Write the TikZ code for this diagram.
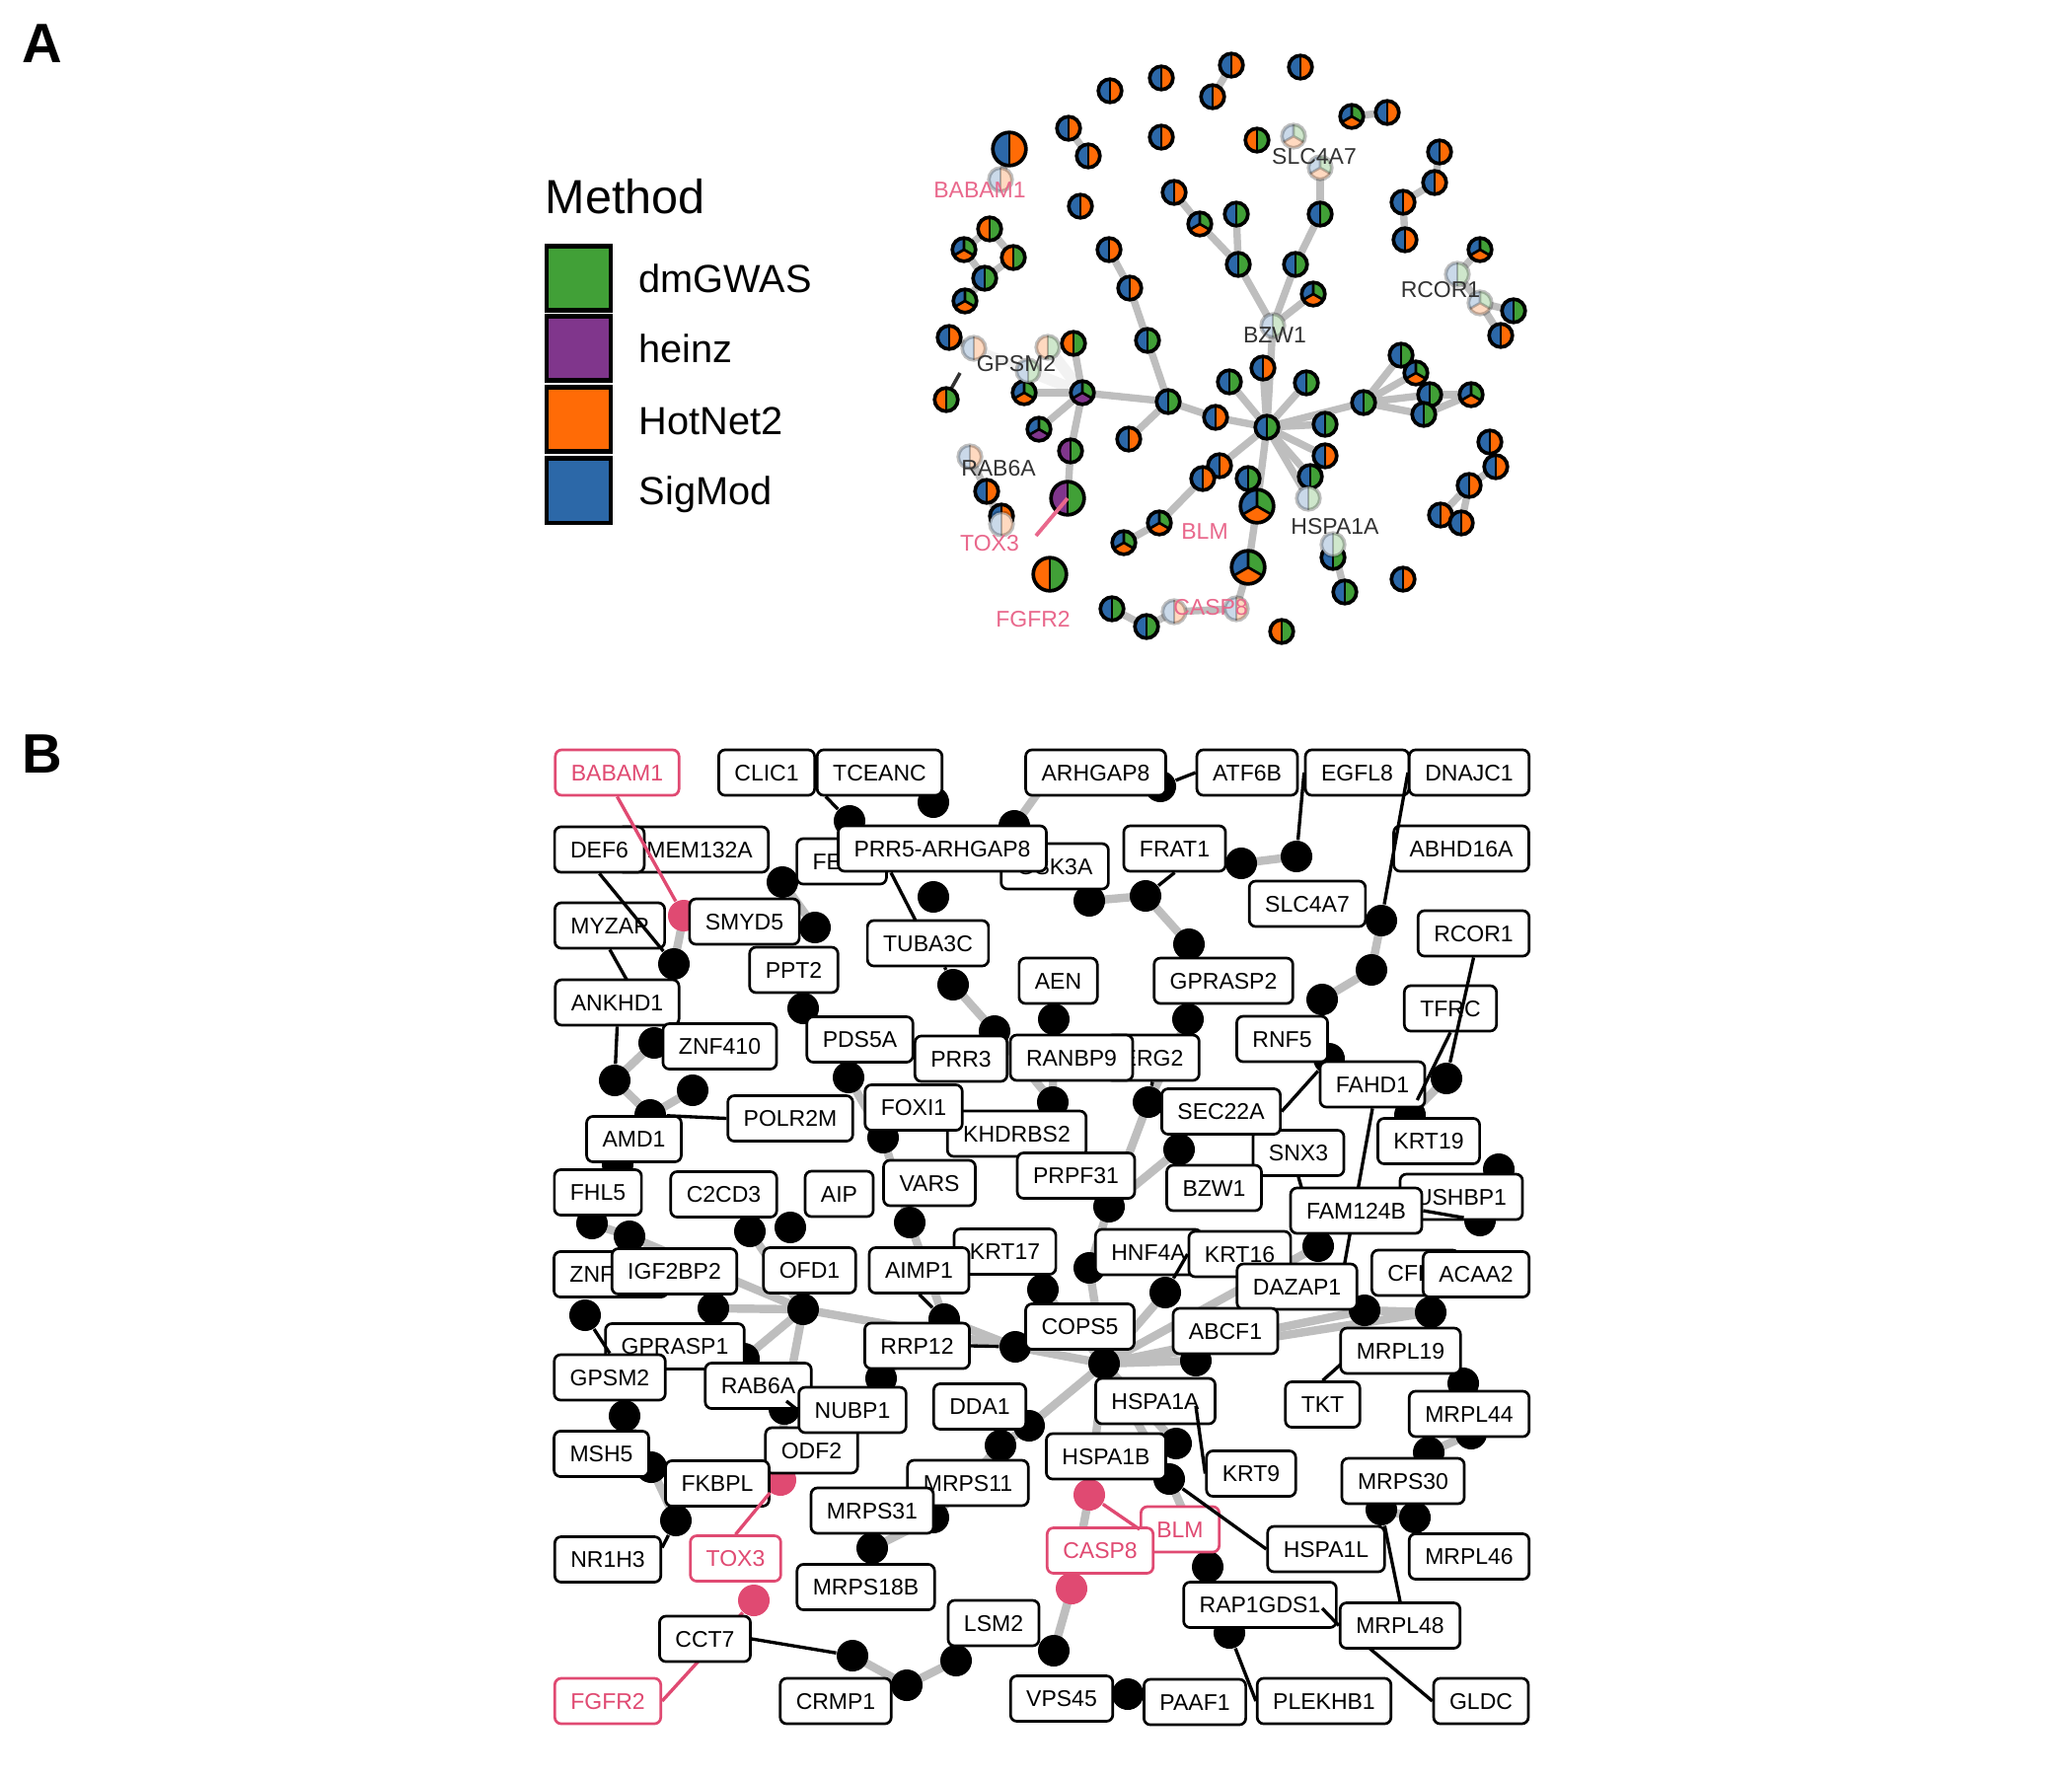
\documentclass[tikz,border=0pt]{standalone}
\usepackage{fontspec}
\setmainfont{Liberation Sans}
\usetikzlibrary{calc}
\pgfdeclarelayer{back}\pgfdeclarelayer{bg}\pgfdeclarelayer{fg}
\pgfsetlayers{back,bg,main,fg}
\definecolor{mgreen}{RGB}{65,160,55}
\definecolor{mpurple}{RGB}{128,54,140}
\definecolor{morange}{RGB}{255,107,6}
\definecolor{mblue}{RGB}{44,104,168}
\definecolor{edgeg}{RGB}{190,190,190}
\definecolor{pinkA}{RGB}{233,104,140}
\definecolor{pinkB}{RGB}{224,74,114}
\def\radN{0.118cm}
\def\radB{0.168cm}
\newcommand\pieH[4]{%
  \fill[#3] (#1) -- ++(90:#2) arc[start angle=90,end angle=270,radius=#2] -- cycle;
  \fill[#4] (#1) -- ++(270:#2) arc[start angle=-90,end angle=90,radius=#2] -- cycle;
  \draw[line width=0.75pt] (#1) -- ++(90:#2) (#1) -- ++(270:#2);
  \draw[line width=1.05pt] (#1) circle[radius=#2];}
\newcommand\pieT[5]{%
  \fill[#3] (#1) -- ++(90:#2) arc[start angle=90,end angle=210,radius=#2] -- cycle;
  \fill[#5] (#1) -- ++(210:#2) arc[start angle=210,end angle=330,radius=#2] -- cycle;
  \fill[#4] (#1) -- ++(330:#2) arc[start angle=330,end angle=450,radius=#2] -- cycle;
  \draw[line width=0.75pt] (#1) -- ++(90:#2) (#1) -- ++(210:#2) (#1) -- ++(330:#2);
  \draw[line width=1.05pt] (#1) circle[radius=#2];}
\newcommand\pBO[2][\radN]{\pieH{#2}{#1}{mblue}{morange}}
\newcommand\pBG[2][\radN]{\pieH{#2}{#1}{mblue}{mgreen}}
\newcommand\pOG[2][\radN]{\pieH{#2}{#1}{morange}{mgreen}}
\newcommand\pPG[2][\radN]{\pieH{#2}{#1}{mpurple}{mgreen}}
\newcommand\pTBO[2][\radN]{\pieT{#2}{#1}{mblue}{mgreen}{morange}}
\newcommand\pTBP[2][\radN]{\pieT{#2}{#1}{mblue}{mgreen}{mpurple}}
\newcommand\fadeWrap[2]{\fill[white] (#1) circle[radius=\radN];\begin{scope}[opacity=0.25]#2\end{scope}}
\newcommand\fBO[1]{\fadeWrap{#1}{\pBO{#1}}}
\newcommand\fBG[1]{\fadeWrap{#1}{\pBG{#1}}}
\newcommand\fOG[1]{\fadeWrap{#1}{\pOG{#1}}}
\newcommand\fTBO[1]{\fadeWrap{#1}{\pTBO{#1}}}
\begin{document}
\begin{tikzpicture}[x=0.01cm,y=-0.01cm,
  gedgeA/.style={line width=2.1pt, draw=edgeg},
  gedgeB/.style={line width=2.4pt, draw=edgeg},
  seg/.style={line width=0.95pt},
  segp/.style={line width=0.95pt, draw=pinkB},
  lbl/.style={draw, line width=0.77pt, rounded corners=0.065cm, fill=white,
    font=\fontsize{6.54}{7}\selectfont, inner xsep=0.16cm, inner ysep=0pt,
    minimum height=0.46cm, text height=0.165cm, text depth=0cm},
  lblp/.style={lbl, draw=pinkB, text=pinkB},
  dotB/.style={circle, fill=black, minimum size=0.32cm, inner sep=0pt},
  dotP/.style={dotB, fill=pinkB},
  labA/.style={font=\fontsize{6.54}{7}\selectfont, text=black!80, inner sep=0pt, text height=0.165cm, text depth=0cm},
  labAp/.style={labA, text=pinkA},
  legsq/.style={draw, line width=1.15pt, minimum size=0.65cm, inner sep=0pt},
  leglab/.style={font=\fontsize{11.3}{13}\selectfont, anchor=base west, inner sep=0pt}]
\useasboundingbox (0,0) rectangle (2100,1800);
\begin{pgfonlayer}{back}
\fill[white] (0,0) rectangle (2100,1800);
\end{pgfonlayer}

% ---------------- panel letters ----------------
\node[font=\fontsize{16}{18}\selectfont\bfseries, anchor=base west, inner sep=0pt] (pA) at (22,64) {A};
\node[font=\fontsize{16}{18}\selectfont\bfseries, anchor=base west, inner sep=0pt] (pB) at (22,783) {B};

% ---------------- legend ----------------
\node[font=\fontsize{13.8}{16}\selectfont, anchor=base west, inner sep=0pt] (legt) at (552,216) {Method};
\node[legsq, fill=mgreen] (lg1) at (586.5,282) {};
\node[legsq, fill=mpurple] (lg2) at (586.5,353) {};
\node[legsq, fill=morange] (lg3) at (586.5,425) {};
\node[legsq, fill=mblue] (lg4) at (586.5,497) {};
\node[leglab] (lt1) at (647,296) {dmGWAS};
\node[leglab] (lt2) at (647,367) {heinz};
\node[leglab] (lt3) at (647,440) {HotNet2};
\node[leglab] (lt4) at (647,511) {SigMod};

% ---------------- panel A ----------------
\foreach \n/\x/\y in {na1/1125/92, na2/1177/79, na3/1248/66, na4/1318/68, na5/1229/98,
  na6/1370/118, na7/1406/114, na8/1083/130, na9/1103/158, na10/1177/139, na11/1023/151,
  nf1/1014/182, na12/1274/142, nf2/1311/138, nf3/1338/170, na13/1338/217, na14/1313/268,
  nfB/1290/330, na15/1331/298, na16/1253/217, na17/1255/268, na18/1190/195, na19/1216/227,
  na20/1095/209, na21/1124/253, na22/1145/292, na23/1163/345, na24/1003/232, na25/977/253,
  na26/1027/261, na27/998/282, na28/978/305, nh/1284/433, nb1/1232/423, nb2/1184/407,
  nb3/1144/445, nc1/1097/398, nc2/1038/398, nc3/1053/435, nc4/1085/457, nc5/1082/505,
  nc6/1088/348, nfG1/987/353, nfG2/1062/352, nfG3/1042/376, nc7/962/342, nc8/959/405,
  nfR1/983/463, nr2/1000/498, nr3/1015/523, nfR3/1015/531, nc9/1064/582, nd1/1280/373,
  nd2/1246/387, nd3/1324/388, nd4/1343/430, nd5/1382/408, nd6/1343/462, nd7/1328/483,
  nfH/1326/505, nd8/1265/485, nd9/1274/513, nd10/1236/472, nd11/1219/485, nd12/1265/575,
  nfC/1253/617, nfC2/1190/620, ne3/1162/635, ne4/1127/617, ne1/1175/530, ne2/1139/550,
  ng1/1351/565, nfH2/1351/552, ng2/1363/600, ng3/1422/587, ng4/1299/640, nk1/1420/360,
  nk2/1435/378, nk3/1449/400, nk4/1443/420, nk5/1491/400, nm1/1510/448, nm2/1516/473,
  nm3/1489/492, nm4/1460/522, nm5/1481/530, nr1/1500/253, nfRC1/1477/278, nfRC2/1500/307,
  nrr2/1534/315, nrr3/1521/340, nn1/1459/154, nn2/1454/185, nn3/1422/205, nn4/1424/243}
  \coordinate (\n) at (\x,\y);
\coordinate (gl1) at (973,378);
\coordinate (gl2) at (964,394);
\coordinate (toxend) at (1050,543);

\draw[line width=3.2pt, draw=black!5] (nc1) -- (nfG2);
\draw[line width=3.2pt, draw=black!5] (nc1) -- (nfG3);
\draw[line width=2.4pt, draw=black!5] (nc1) -- (nfG1);
\foreach \a/\b in {na3/na5, na6/na7, na8/na9, na11/nf1, nf3/na13, na13/na14, na14/nfB,
  na15/nfB, na16/na17, na17/nfB, na18/na19, na19/na17, na21/na22, na22/na23, na23/nb2,
  na24/na25, na24/na26, na26/na27, na25/na27, na27/na28, nfB/nh, nb2/nb1, nb1/nh, nb2/nb3,
  nb2/nc1, nc1/nc2, nc1/nc3, nc1/nc4, nc4/nc5, nc1/nc6, nc7/nfG1, nfR1/nr2, nr2/nfR3,
  nh/nd1, nh/nd2, nh/nd3, nh/nd4, nh/nd5, nh/nd6, nh/nd7, nh/nfH, nh/nd9, nh/nd10,
  nd10/nd11, nd11/ne1, ne1/ne2, nd9/nd12, nd12/nfC, nfC/nfC2, nfC2/ne3, ne3/ne4,
  nfH2/ng2, nd5/nk1, nd5/nk2, nd5/nk3, nd5/nk4, nk3/nk5, nk4/nk5, nk1/nk2, nm1/nm2,
  nm2/nm3, nm3/nm4, nm3/nm5, nr1/nfRC1, nfRC1/nfRC2, nfRC2/nrr2, nfRC2/nrr3, nn1/nn2,
  nn2/nn3, nn3/nn4}
  \draw[gedgeA] (\a) -- (\b);
\draw[line width=1pt, draw=black!80] (gl1) -- (gl2);

% normal pies
\pBO{na1}\pBO{na2}\pBO{na3}\pBO{na4}\pBO{na5}\pTBO{na6}\pBO{na7}\pBO{na8}\pBO{na9}
\pBO{na10}\pBO[\radB]{na11}\pOG{na12}\pBG{na13}\pBG{na14}\pTBO{na15}\pBG{na16}\pBG{na17}
\pBO{na18}\pTBO{na19}\pBO{na20}\pBO{na21}\pBO{na22}\pBG{na23}\pOG{na24}\pTBO{na25}
\pOG{na26}\pBG{na27}\pTBO{na28}\pBG{nh}\pBO{nb1}\pBG{nb2}\pBO{nb3}\pTBP{nc1}\pTBO{nc2}
\pTBP{nc3}\pPG{nc4}\pPG[\radB]{nc5}\pOG{nc6}\pBO{nc7}\pOG{nc8}\pBO{nr2}\pBO{nr3}\pOG[\radB]{nc9}
\pBO{nd1}\pBG{nd2}\pBG{nd3}\pBG{nd4}\pBG{nd5}\pBO{nd6}\pBG{nd7}\pBG{nd8}\pTBO[\radB]{nd9}
\pBO{nd10}\pBO{nd11}\pTBO[\radB]{nd12}\pBG{ne3}\pBG{ne4}\pTBO{ne1}\pTBO{ne2}\pBG{ng1}
\pBG{ng2}\pBO{ng3}\pOG{ng4}\pBG{nk1}\pTBO{nk2}\pBG{nk3}\pBG{nk4}\pTBO{nk5}\pBO{nm1}
\pBO{nm2}\pBO{nm3}\pBO{nm4}\pBO{nm5}\pTBO{nr1}\pBG{nrr2}\pBO{nrr3}\pBO{nn1}\pBO{nn2}
\pBO{nn3}\pBO{nn4}
% faded pies
\fBO{nf1}\fTBO{nf2}\fTBO{nf3}\fBG{nfB}\fBO{nfG1}\fBG{nfG3}\fOG{nfG2}\fBO{nfR1}\fBO{nfR3}\fBG{nfH}
\fBG{nfH2}\fBO{nfC}\fBO{nfC2}\fBG{nfRC1}\fTBO{nfRC2}
\draw[line width=1.1pt, draw=pinkA] (nc5) -- (toxend);

\node[labAp] (Ababam1) at (993,192) {BABAM1};
\node[labA] (Aslc4a7) at (1332,158) {SLC4A7};
\node[labA] (Arcor1) at (1460,293) {RCOR1};
\node[labA] (Abzw1) at (1292,339) {BZW1};
\node[labA] (Agpsm2) at (1030,368) {GPSM2};
\node[labA] (Arab6a) at (1012,474) {RAB6A};
\node[labAp] (Atox3) at (1003,550) {TOX3};
\node[labAp] (Ablm) at (1221,538) {BLM};
\node[labA] (Ahspa1a) at (1353,533) {HSPA1A};
\node[labAp] (Afgfr2) at (1047,627) {FGFR2};
\node[labAp] (Acasp8) at (1227,615) {CASP8};

% ---------------- panel B ----------------
\foreach \n/\x/\y in {q1/861/832, q2/946/813, q3/1028/837, q4/1065/785, q5/793/894,
  q6/946/909, q7/683/977, q8/826/940, q9/814/1022, q10/966/998, q11/1008/1045,
  q12/663/1057, q13/623/1095, q14/702/1105, q15/659/1130, q16/860/1092, q17/1068/1033,
  q18/1067/1117, q19/1176/797, q20/1258/875, q21/1314/868, q22/1104/913, q23/1161/908,
  q24/1205/957, q25/1204/1033, q26/1400/933, q27/1390/983, q28/1340/1013, q29/1347/1073,
  q30/1466/1093, q31/1429/1130, q32/1164/1117, q33/1195/1165, q34/1124/1223,
  q35/1104/1285, q36/1181/1310, q37/1057/1307, q38/1119/1382, q39/1212/1379,
  q40/1383/1328, q41/1450/1330, q42/1336/1263, q43/1519/1185, q44/1500/1237,
  q45/1483/1402, q46/1491/1453, q47/1448/1472, q48/1400/1530, q49/1434/1538,
  q50/895/1153, q51/922/1239, q52/957/1337, q53/1029/1365, q54/893/1397, q55/626/1180,
  q56/600/1240, q57/638/1253, q58/760/1248, q59/801/1244, q60/723/1326, q61/814/1327,
  q62/593/1333, q63/754/1377, q64/795/1428, q65/633/1435, q66/660/1487, q67/685/1541,
  q68/1043/1445, q69/1014/1465, q70/946/1538, q71/884/1569, q72/1192/1463,
  q73/1185/1499, q74/1224/1588, q75/1068/1673, q76/1143/1717, q77/1246/1655,
  q78/864/1678, q79/919/1708, q80/969/1683}
  \node[dotB] (\n) at (\x,\y) {};
\foreach \n/\x/\y in {pk1/693/928, pk2/791/1500, pk3/764/1622, pk4/1104/1515, pk5/1086/1610}
  \node[dotP] (\n) at (\x,\y) {};

\coordinate (cmyzap) at (638,998);
\coordinate (cprr5) at (929,935);
\coordinate (cfahd1) at (1362,1285);
\coordinate (ctkt) at (1362,1380);
\coordinate (cgldc) at (1385,1668);
\coordinate (ckrt9) at (1212,1425);
\coordinate (cmrpl48) at (1340,1630);
\coordinate (cnubp1) at (797,1420);

\node[lblp] (babam1) at (625.5,783) {BABAM1};
\node[lbl] (clic1) at (777,783) {CLIC1};
\node[lbl] (tceanc) at (891.5,783) {TCEANC};
\node[lbl] (arhgap8) at (1110.5,783) {ARHGAP8};
\node[lbl] (atf6b) at (1264,783) {ATF6B};
\node[lbl] (egfl8) at (1375.5,783) {EGFL8};
\node[lbl] (dnajc1) at (1489,783) {DNAJC1};
\node[lbl] (tmem) at (702,861) {TMEM132A};
\node[lbl] (def6) at (607.5,861) {DEF6};
\node[lbl] (fen1) at (853,873) {FEN1};
\node[lbl] (gsk3a) at (1069,878) {GSK3A};
\node[lbl] (prr5) at (955,860) {PRR5-ARHGAP8};
\node[lbl] (frat1) at (1190.5,860) {FRAT1};
\node[lbl] (abhd16a) at (1481,860) {ABHD16A};
\node[lbl] (smyd5) at (754.5,934) {SMYD5};
\node[lbl] (myzap) at (618,938) {MYZAP};
\node[lbl] (slc4a7) at (1325,916) {SLC4A7};
\node[lbl] (tuba3c) at (940.5,956) {TUBA3C};
\node[lbl] (rcor1) at (1493.5,946) {RCOR1};
\node[lbl] (ppt2) at (804.5,983) {PPT2};
\node[lbl] (aen) at (1072.5,994) {AEN};
\node[lbl] (gprasp2) at (1240,994) {GPRASP2};
\node[lbl] (ankhd1) at (625.5,1016) {ANKHD1};
\node[lbl] (tfrc) at (1470,1022) {TFRC};
\node[lbl] (pds5a) at (871.5,1053.5) {PDS5A};
\node[lbl] (znf410) at (729.5,1060.5) {ZNF410};
\node[lbl] (rnf5) at (1299.5,1053) {RNF5};
\node[lbl] (prr3) at (974,1073) {PRR3};
\node[lbl] (erg2) at (1168,1072) {ERG2};
\node[lbl] (ranbp9) at (1086,1072) {RANBP9};
\node[lbl] (fahd1) at (1391,1099) {FAHD1};
\node[lbl] (khdrbs2) at (1030.5,1149) {KHDRBS2};
\node[lbl] (foxi1) at (926,1122.5) {FOXI1};
\node[lbl] (snx3) at (1316,1168.5) {SNX3};
\node[lbl] (sec22a) at (1237.5,1126.5) {SEC22A};
\node[lbl] (polr2m) at (801,1133.5) {POLR2M};
\node[lbl] (amd1) at (642.5,1154.5) {AMD1};
\node[lbl] (krt19) at (1448,1156.5) {KRT19};
\node[lbl] (prpf31) at (1090.5,1191.5) {PRPF31};
\node[lbl] (vars) at (942,1199) {VARS};
\node[lbl] (fhl5) at (606,1208.5) {FHL5};
\node[lbl] (c2cd3) at (733.5,1210.5) {C2CD3};
\node[lbl] (aip) at (850.5,1210) {AIP};
\node[lbl] (bzw1) at (1230.5,1204) {BZW1};
\node[lbl] (ushbp1) at (1481,1213) {USHBP1};
\node[lbl] (fam124b) at (1374.5,1227) {FAM124B};
\node[lbl] (krt17) at (1018.5,1268.5) {KRT17};
\node[lbl] (hnf4a) at (1164,1269) {HNF4A};
\node[lbl] (krt16) at (1256.5,1271) {KRT16};
\node[lbl] (znf503) at (619,1291.5) {ZNF503};
\node[lbl] (igf2bp2) at (683.5,1288.5) {IGF2BP2};
\node[lbl] (ofd1) at (820.5,1287.5) {OFD1};
\node[lbl] (aimp1) at (931.5,1287.5) {AIMP1};
\node[lbl] (dazap1) at (1314.5,1304) {DAZAP1};
\node[lbl] (cfl1) at (1434.5,1290) {CFL1};
\node[lbl] (acaa2) at (1496,1291.5) {ACAA2};
\node[lbl] (cops5) at (1094.5,1344.5) {COPS5};
\node[lbl] (abcf1) at (1242,1349) {ABCF1};
\node[lbl] (rrp12) at (929.5,1364) {RRP12};
\node[lbl] (gprasp1) at (684,1364.5) {GPRASP1};
\node[lbl] (mrpl19) at (1419.5,1369) {MRPL19};
\node[lbl] (rab6a) at (768.5,1404.5) {RAB6A};
\node[lbl] (gpsm2) at (618,1396) {GPSM2};
\node[lbl] (hspa1a) at (1171,1420) {HSPA1A};
\node[lbl] (tkt) at (1340.5,1423.5) {TKT};
\node[lbl] (odf2) at (822.5,1470) {ODF2};
\node[lbl] (nubp1) at (864,1429) {NUBP1};
\node[lbl] (dda1) at (993,1425.5) {DDA1};
\node[lbl] (mrpl44) at (1489,1433) {MRPL44};
\node[lbl] (msh5) at (609.5,1473.5) {MSH5};
\node[lbl] (hspa1b) at (1121,1476) {HSPA1B};
\node[lbl] (krt9) at (1268,1493.5) {KRT9};
\node[lbl] (mrps30) at (1422,1501) {MRPS30};
\node[lbl] (fkbpl) at (727,1503.5) {FKBPL};
\node[lbl] (mrps11) at (981,1503) {MRPS11};
\node[lbl] (mrps31) at (884,1531) {MRPS31};
\node[lblp] (blm) at (1196,1550) {BLM};
\node[lblp] (casp8) at (1115,1571.5) {CASP8};
\node[lbl] (hspa1l) at (1344,1570) {HSPA1L};
\node[lbl] (mrpl46) at (1489,1577.5) {MRPL46};
\node[lbl] (nr1h3) at (616,1580.5) {NR1H3};
\node[lblp] (tox3) at (745.5,1579.5) {TOX3};
\node[lbl] (mrps18b) at (877.5,1608.5) {MRPS18B};
\node[lbl] (rap1gds1) at (1277,1626.5) {RAP1GDS1};
\node[lbl] (lsm2) at (1007,1645) {LSM2};
\node[lbl] (mrpl48) at (1419,1647.5) {MRPL48};
\node[lbl] (cct7) at (714.5,1661) {CCT7};
\node[lblp] (fgfr2) at (616,1724) {FGFR2};
\node[lbl] (crmp1) at (847,1724) {CRMP1};
\node[lbl] (vps45) at (1076,1721.5) {VPS45};
\node[lbl] (paaf1) at (1211,1725) {PAAF1};
\node[lbl] (plekhb1) at (1342,1724) {PLEKHB1};
\node[lbl] (gldc) at (1501,1724) {GLDC};

\begin{pgfonlayer}{bg}
\foreach \a/\b in {pk1/q7, q5/q8, q3/q4, q22/q23, q23/q24, q20/q21, q26/q27, q27/q28,
  q10/q11, q11/q18, q17/q18, q12/q13, q13/q15, q14/q15, q16/q50, q50/q51, q51/q52,
  q25/q32, q32/q34, q33/q34, q34/q35, q35/q38, q36/q38, q37/q38, q61/q53, q53/q38,
  q52/q53, q56/q57, q57/q61, q60/q61, q58/q61, q61/q63, q61/q64, q64/pk2, q54/q52,
  q38/q39, q38/q40, q38/q41, q40/q41, q38/q42, q38/q68, q68/q69, q69/q70, q70/q71,
  q38/q72, q38/q73, q73/q74, q38/pk4, pk4/pk5, pk5/q75, q78/q79, q79/q80, q65/q66,
  q66/q67, q30/q31, q47/q46, q48/q49}
  \draw[gedgeB] (\a.center) -- (\b.center);
\draw[seg] (myzap.south) -- (cmyzap);
\draw[seg] ($(prr5.south)+(-52,0)$) -- (cprr5);
\draw[seg] (fahd1.south) -- (cfahd1);
\draw[seg] (snx3.south) -- (q42);
\draw[seg] (polr2m.west) -- (q15);
\draw[seg] (tkt.north) -- (ctkt);
\draw[seg] (gldc.west) -- (cgldc);
\draw[segp] (fgfr2.east) -- (pk3);
\end{pgfonlayer}

\begin{pgfonlayer}{fg}
\draw[segp] (babam1.south) -- (pk1);
\draw[seg] (def6.south) -- (q7);
\draw[seg] (ankhd1.south) -- (q13);
\draw[seg] ($(tceanc.south west)+(10,0)$) -- (q1);
\draw[seg] ($(tuba3c.south)+(17,0)$) -- (q10);
\draw[seg] (atf6b.west) -- (q19);
\draw[seg] (egfl8.west) -- (q21);
\draw[seg] (dnajc1.west) -- (q26);
\draw[seg] (frat1.south) -- (q23);
\draw[seg] (rcor1.south) -- (q30);
\draw[seg] (tfrc.south) -- (q31);
\draw[seg] (erg2.south) -- (q32);
\draw[seg] (sec22a.east) -- (q29);
\draw[seg] (fam124b.east) -- (q44);
\draw[seg] (krt16.west) -- (q36);
\draw[seg] (aimp1.south) -- (q52);
\draw[seg] (rrp12.east) -- (q53);
\draw[seg] (gpsm2.north) -- (q62);
\draw[seg] (nubp1.west) -- (cnubp1);
\draw[seg] (krt9.west) -- (ckrt9);
\draw[seg] (hspa1l.west) -- (q73);
\draw[segp] (blm.west) -- (pk4);
\draw[seg] (mrpl48.north) -- (q48);
\draw[seg] (mrpl48.west) -- (cmrpl48);
\draw[seg] (plekhb1.west) -- (q77);
\draw[seg] (cct7.east) -- (q78);
\draw[segp] (tox3.north) -- (pk2);
\draw[seg] ($(nr1h3.east)+(0,-12)$) -- (q67);
\end{pgfonlayer}
\end{tikzpicture}
\end{document}
